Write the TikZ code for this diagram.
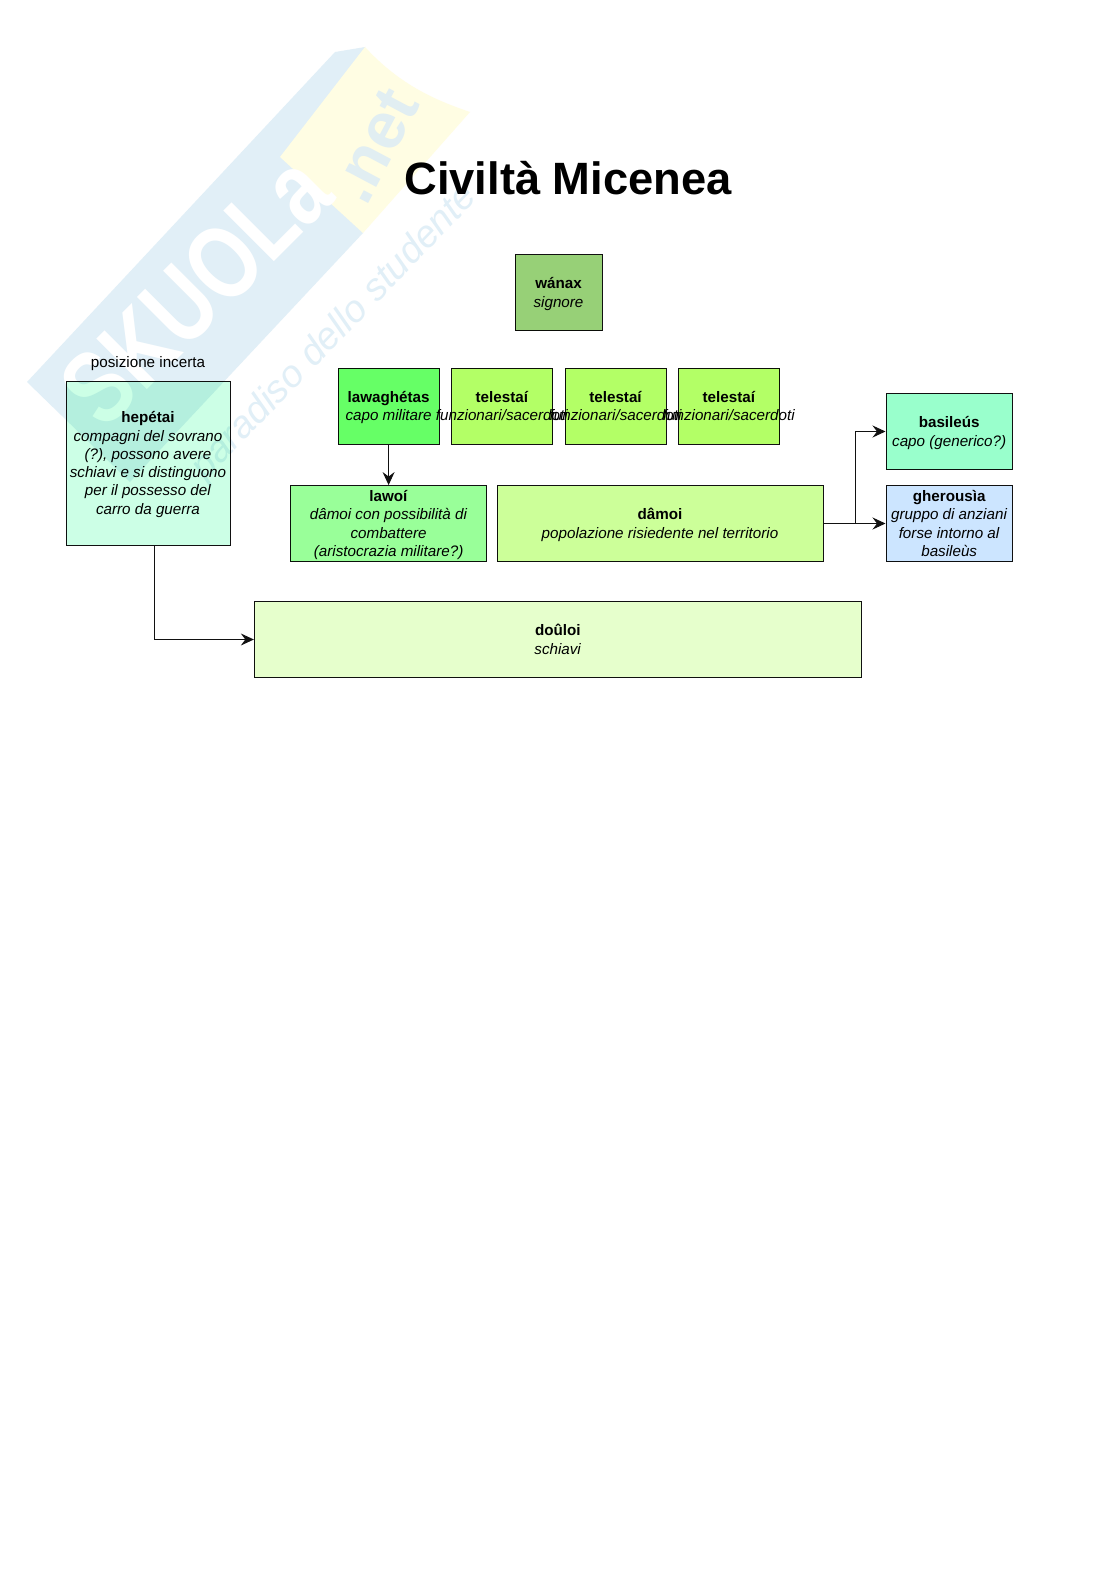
\documentclass[tikz,border=0pt]{standalone}
\usepackage{fontspec}
\setmainfont{Liberation Sans}
\usetikzlibrary{arrows.meta}
\definecolor{wmblue}{HTML}{E1EFF7}
\definecolor{wmblue2}{HTML}{E1EEF2}
\definecolor{wmyellow}{HTML}{FFFDE3}
\definecolor{ink}{HTML}{111111}
\definecolor{HTMLa}{HTML}{97D077}
\definecolor{HTMLb}{HTML}{CCFFE6}
\definecolor{HTMLc}{HTML}{66FF66}
\definecolor{HTMLd}{HTML}{B3FF66}
\definecolor{HTMLe}{HTML}{99FF99}
\definecolor{HTMLf}{HTML}{CCFF99}
\definecolor{HTMLg}{HTML}{99FFCC}
\definecolor{HTMLh}{HTML}{CCE5FF}
\definecolor{HTMLi}{HTML}{E6FFCC}
\tikzset{
  x=1pt,y=-1pt,
  box/.style={draw=ink,line width=0.9pt,inner sep=0pt,align=center,font=\fontsize{15.2}{18.3}\selectfont,text=black,blend mode=multiply},
  flow/.style={draw=ink,line width=0.9pt,-{Stealth[length=13pt,width=12pt,inset=4.5pt]}},
  plain/.style={inner sep=0pt,align=center,text=black},
}
\newcommand{\mystrut}{\rule[-3.66pt]{0pt}{18.3pt}}
\newcommand{\nm}[1]{\mystrut\textbf{#1}}
\newcommand{\de}[1]{\mystrut\textit{#1}}
\newcommand{\wider}[1]{\mystrut\makebox[0pt][c]{\textit{#1}}}
\begin{document}
\begin{tikzpicture}
\useasboundingbox (0,0) rectangle (1116,1579);
\fill[white] (0,0) rectangle (1116,1579);
% watermark
\fill[wmblue] (27,382) -- (335,52) -- (365,47) -- (363,233) -- (130,482) -- cycle;
\fill[wmyellow] (280,157) -- (365,47) .. controls (400,85) and (435,100) .. (470,112) -- (363,233) -- cycle;
\node[plain,text=white,rotate=45,font=\fontsize{104}{104}\selectfont\bfseries] (wmname) at (196,290) {\scalebox{0.78}[1]{SKUOLa}};
\node[plain,text=wmblue2,rotate=62,font=\fontsize{66}{66}\selectfont\bfseries] (wmnet) at (375,146) {.net};
\node[plain,text=wmblue,rotate=46,font=\fontsize{38}{38}\selectfont\itshape] (wmtag) at (335,333) {paradiso dello studente};
% title
\node[plain,font=\fontsize{45.3}{50}\selectfont\bfseries] (title) at (568,178.5) {Civiltà Micenea};
% boxes
\node[box,fill=HTMLa,minimum width=87pt,minimum height=76pt] (wanax) at (558.5,292.5) {\nm{wánax}\\\de{signore}};
\node[plain,font=\fontsize{15.2}{18.3}\selectfont] (pos) at (148,364) {posizione incerta};
\node[box,fill=HTMLb,minimum width=164pt,minimum height=164pt] (hep) at (148,463) {\nm{hepétai}\\\de{compagni del sovrano}\\\de{(?), possono avere}\\\de{schiavi e si distinguono}\\\de{per il possesso del}\\\de{carro da guerra}};
\node[box,fill=HTMLc,minimum width=101pt,minimum height=76pt] (law) at (388.6,406) {\nm{lawaghétas}\\\de{capo militare}};
\node[box,fill=HTMLd,minimum width=101pt,minimum height=76pt] (tela) at (502,406) {\nm{telestaí}\\\wider{funzionari/sacerdoti}};
\node[box,fill=HTMLd,minimum width=101pt,minimum height=76pt] (telb) at (615.7,406) {\nm{telestaí}\\\wider{funzionari/sacerdoti}};
\node[box,fill=HTMLd,minimum width=101pt,minimum height=76pt] (telc) at (729,406) {\nm{telestaí}\\\wider{funzionari/sacerdoti}};
\node[box,fill=HTMLe,minimum width=196.5pt,minimum height=76pt] (lawoi) at (388.6,523.5) {\nm{lawoí}\\\de{dâmoi con possibilità di}\\\de{combattere}\\\de{(aristocrazia militare?)}};
\node[box,fill=HTMLf,minimum width=326pt,minimum height=76pt] (damoi) at (660,523.5) {\nm{dâmoi}\\\de{popolazione risiedente nel territorio}};
\node[box,fill=HTMLg,minimum width=126.5pt,minimum height=76pt] (bas) at (949.2,431.5) {\nm{basileús}\\\de{capo (generico?)}};
\node[box,fill=HTMLh,minimum width=126.5pt,minimum height=76pt] (ghe) at (949.2,523.5) {\nm{gherousìa}\\\de{gruppo di anziani}\\\de{forse intorno al}\\\de{basileùs}};
\node[box,fill=HTMLi,minimum width=607pt,minimum height=76pt] (dou) at (557.8,639.5) {\nm{doûloi}\\\de{schiavi}};
% connectors
\coordinate (hepout) at (154.7,545);
\coordinate (split) at (855,523.5);
\draw[flow] (law) -- (lawoi);
\draw[flow] (hepout) |- (dou.west);
\draw[flow] (damoi.east) -- (ghe.west);
\draw[flow] (split) |- (bas.west);
\end{tikzpicture}
\end{document}
